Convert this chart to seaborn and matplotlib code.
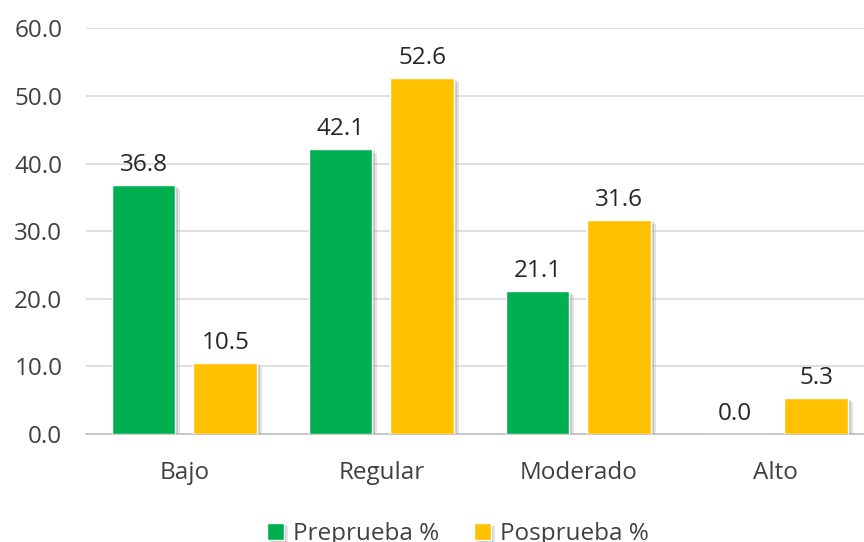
import matplotlib
matplotlib.use("Agg")
import matplotlib.pyplot as plt
import matplotlib.patheffects as pe
import pandas as pd
import seaborn as sns

# Data
categorias = ["Bajo", "Regular", "Moderado", "Alto"]
preprueba = [36.8, 42.1, 21.1, 0.0]
posprueba = [10.5, 52.6, 31.6, 5.3]
series = ["Preprueba %", "Posprueba %"]

df = pd.DataFrame({
    "nivel": categorias * 2,
    "valor": preprueba + posprueba,
    "serie": [series[0]] * 4 + [series[1]] * 4,
})

sns.set_style("white")
plt.rcParams["font.family"] = ["Open Sans", "DejaVu Sans"]

fig = plt.figure(figsize=(8.64, 5.42), dpi=100)
ax = fig.add_axes([0.0995, 0.199, 0.9005, 0.749])

sns.barplot(data=df, x="nivel", y="valor", hue="serie", order=categorias,
            hue_order=series, palette=["#00B050", "#FFC000"],
            width=0.83, gap=0.22, saturation=1, legend=True, ax=ax, zorder=3)

# soft drop shadow
shadow = [pe.SimplePatchShadow(offset=(3.5, -2.5), shadow_rgbFace="#b0b0b0", alpha=0.35),
          pe.SimplePatchShadow(offset=(2, -1.5), shadow_rgbFace="#909090", alpha=0.35),
          pe.Normal()]
for p in ax.patches:
    p.set_path_effects(shadow)

for cont in ax.containers:
    ax.bar_label(cont, fmt="%.1f", padding=6, fontsize=17.5, color="#262626")

ax.set_ylim(0, 60)
ax.set_xlim(-0.5, 3.45)
ax.set_yticks(range(0, 61, 10))
ax.set_yticklabels([f"{v:.1f}" for v in range(0, 61, 10)])
ax.yaxis.grid(True, color="#d9d9d9", linewidth=1.2, zorder=0)
ax.set_axisbelow(True)
ax.set_xlabel("")
ax.set_ylabel("")
ax.tick_params(axis="both", labelsize=17.5, colors="#404040", length=0)
ax.tick_params(axis="x", pad=19)
ax.tick_params(axis="y", pad=17)
for s in ["left", "right", "top"]:
    ax.spines[s].set_visible(False)
ax.spines["bottom"].set_color("#bfbfbf")
ax.spines["bottom"].set_linewidth(1.2)

handles, labels = ax.get_legend_handles_labels()
ax.get_legend().remove()
fig.legend(handles, labels, loc="center", bbox_to_anchor=(0.53, 0.015), ncol=2,
           frameon=False, fontsize=17.5, handlelength=0.7, handleheight=0.7,
           handletextpad=0.4, columnspacing=1.4, labelcolor="#404040")

fig.savefig("out.png", dpi=100)
